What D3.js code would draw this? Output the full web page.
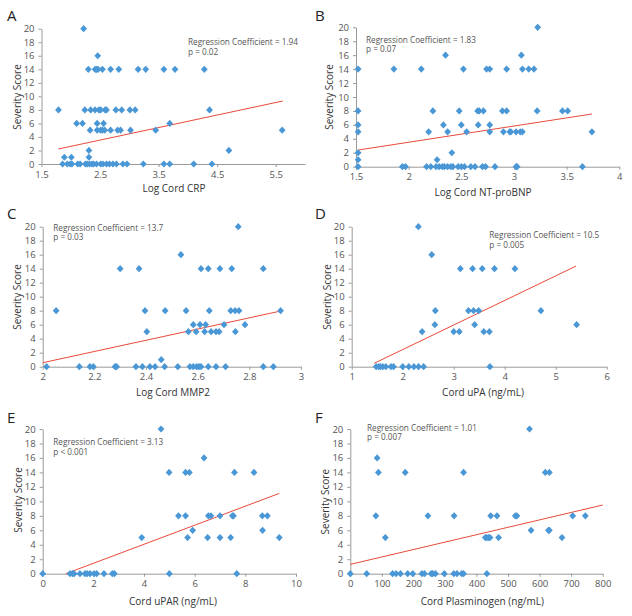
<!DOCTYPE html>
<html><head><meta charset="utf-8">
<script src="https://cdn.jsdelivr.net/npm/d3@7"></script>
<style>
html,body{margin:0;padding:0;background:#fff;}
svg{display:block;}
text{font-family:"Open Sans",sans-serif;}
</style></head>
<body>
<svg id="chart" width="632" height="616"></svg>
<script>
// ---------- DATA ----------
// Panel A: Log Cord CRP
const aX = [2.22, 2.46,
  2.30,2.415,2.44,2.466,2.54,2.68,2.82,3.15,3.28,3.59,3.78,4.28,
  1.79,2.24,2.34,2.415,2.48,2.51,2.585,2.61,2.77,2.87,3.01,3.10,4.37,
  2.10,2.20,2.45,2.56,3.69,
  2.33,2.45,2.51,2.54,2.58,2.68,2.80,2.85,3.02,3.45,5.61,
  2.31,4.70,
  1.89,2.01,2.31,
  1.86,1.94,1.99,2.02,2.12,2.16,2.25,2.28,2.32,2.36,2.39,2.44,2.51,2.55,2.61,2.66,2.72,2.78,2.89,2.96,3.24,3.59,3.69,4.10,4.41];
const aY = [20,16,
  14,14,14,14,14,14,14,14,14,14,14,14,
  8,8,8,8,8,8,8,8,8,8,8,8,8,
  6,6,6,6,6,
  5,5,5,5,5,5,5,5,5,5,5,
  2,2,
  1,1,1,
  0,0,0,0,0,0,0,0,0,0,0,0,0,0,0,0,0,0,0,0,0,0,0,0,0];
const aLineX = [1.79, 5.62];
const aLineY = [2.22, 9.31];

// Panel B: Log Cord NT-proBNP
const bX = [3.225,
  2.35,3.07,
  1.52,1.86,2.12,2.52,2.74,2.77,2.93,3.08,3.14,3.19,
  1.52,2.23,2.48,2.655,2.67,2.71,2.89,2.93,3.22,3.46,3.51,
  1.52,2.33,2.50,2.66,2.77,
  1.52,2.19,2.37,2.55,2.77,2.90,2.96,2.97,3.02,3.06,3.08,3.74,
  1.52,2.41,
  1.52,2.27,
  1.52,1.94,1.97,2.17,2.21,2.26,2.29,2.32,2.34,2.37,2.40,2.42,2.47,2.50,2.53,2.59,2.63,2.70,2.73,2.82,3.02,3.03,3.65];
const bY = [20,
  16,16,
  14,14,14,14,14,14,14,14,14,14,
  8,8,8,8,8,8,8,8,8,8,8,
  6,6,6,6,6,
  5,5,5,5,5,5,5,5,5,5,5,5,
  2,2,
  1,1,
  0,0,0,0,0,0,0,0,0,0,0,0,0,0,0,0,0,0,0,0,0,0,0];
const bLineX = [1.52, 3.74];
const bLineY = [2.39, 7.56];

// Panel C: Log Cord MMP2
const cX = [2.757,
  2.535,
  2.30,2.373,2.613,2.641,2.686,2.732,2.854,
  2.052,2.396,2.474,2.555,2.645,2.728,2.745,2.76,2.921,
  2.583,2.609,2.631,2.702,2.783,
  2.403,2.564,2.594,2.627,2.652,2.671,2.683,2.746,
  2.459,
  2.015,2.142,2.183,2.196,2.28,2.286,2.361,2.386,2.415,2.435,2.472,2.523,2.57,2.583,2.596,2.605,2.613,2.641,2.671,2.708,2.854,2.893];
const cY = [20,
  16,
  14,14,14,14,14,14,14,
  8,8,8,8,8,8,8,8,8,
  6,6,6,6,6,
  5,5,5,5,5,5,5,5,
  1,
  0,0,0,0,0,0,0,0,0,0,0,0,0,0,0,0,0,0,0,0,0,0];
const cLineX = [2.0, 2.921];
const cLineY = [0.57, 7.95];

// Panel D: Cord uPA (ng/mL)
const dX = [2.307,
  2.569,
  3.13,3.37,3.56,3.80,4.20,
  2.64,3.29,3.39,3.49,4.71,
  2.63,3.41,5.41,
  2.38,3.00,3.11,3.59,3.70,
  1.48,1.53,1.56,1.61,1.67,1.77,1.82,2.00,2.12,2.22,2.31,2.41,3.71];
const dY = [20,
  16,
  14,14,14,14,14,
  8,8,8,8,8,
  6,6,6,
  5,5,5,5,5,
  0,0,0,0,0,0,0,0,0,0,0,0,0];
const dLineX = [1.44, 5.40];
const dLineY = [0.48, 14.38];

// Panel E: Cord uPAR (ng/mL)
const eX = [4.67,
  6.37,
  4.99,5.64,5.79,7.57,8.34,
  5.36,5.64,6.54,6.64,7.00,7.49,7.53,8.67,8.87,
  5.92,8.68,
  3.91,5.72,6.51,7.00,7.42,9.34,
  0.00,1.08,1.18,1.24,1.47,1.67,1.76,1.87,2.03,2.13,2.42,2.75,2.83,5.00,7.66];
const eY = [20,
  16,
  14,14,14,14,14,
  8,8,8,8,8,8,8,8,8,
  6,6,
  5,5,5,5,5,5,
  0,0,0,0,0,0,0,0,0,0,0,0,0,0,0];
const eLineX = [0.91, 9.34];
const eLineY = [0, 11.1];

// Panel F: Cord Plasminogen (ng/mL)
const fX = [568,
  85,
  89,174,359,618,631,
  81,246,329,445,465,523,528,705,745,
  573,628,631,
  111,428,433,438,443,470,671,
  0,52,134,145,159,182,198,227,235,256,261,270,298,328,338,353,359,433];
const fY = [20,
  16,
  14,14,14,14,14,
  8,8,8,8,8,8,8,8,8,
  6,6,6,
  5,5,5,5,5,5,5,
  0,0,0,0,0,0,0,0,0,0,0,0,0,0,0,0,0,0];
const fLineX = [0, 800];
const fLineY = [1.29, 9.49];

// Tick labels and texts
const yTicks = [0,2,4,6,8,10,12,14,16,18,20];
const aTicks = [1.5,2.5,3.5,4.5,5.5];
const bTicks = [1.5,2,2.5,3,3.5,4];
const cTicks = [2,2.2,2.4,2.6,2.8,3];
const dTicks = [1,2,3,4,5,6];
const eTicks = [0,2,4,6,8,10];
const fTicks = [0,100,200,300,400,500,600,700,800];
const panelLetters = ["A","B","C","D","E","F"];
const xTitles = ["Log Cord CRP","Log Cord NT-proBNP","Log Cord MMP2","Cord uPA (ng/mL)","Cord uPAR (ng/mL)","Cord Plasminogen (ng/mL)"];
const coefTexts = ["Regression Coefficient = 1.94","Regression Coefficient = 1.83","Regression Coefficient = 13.7","Regression Coefficient = 10.5","Regression Coefficient = 3.13","Regression Coefficient = 1.01"];
const pTexts = ["p = 0.02","p = 0.07","p = 0.03","p = 0.005","p < 0.001","p = 0.007"];
const yTitle = "Severity Score";

// ---------- LAYOUT ----------
const layouts = [
  {xs:aX, ys:aY, lx:aLineX, ly:aLineY, ticks:aTicks, xd:[1.5,6], xr:[41.5,305], yr:[164,28.7], lab:[7,21], yt:[21,97], xt:[174,191.5], ann:[188,45]},
  {xs:bX, ys:bY, lx:bLineX, ly:bLineY, ticks:bTicks, xd:[1.5,4], xr:[356,619.3], yr:[166.7,27.3], lab:[315,21], yt:[333,97], xt:[483,195.5], ann:[366,42.7]},
  {xs:cX, ys:cY, lx:cLineX, ly:cLineY, ticks:cTicks, xd:[2,3], xr:[42.7,301], yr:[366.7,226.7], lab:[7,219], yt:[21,297], xt:[173,396], ann:[53.3,230.7]},
  {xs:dX, ys:dY, lx:dLineX, ly:dLineY, ticks:dTicks, xd:[1,6], xr:[351.7,606.7], yr:[366.7,226.7], lab:[315,219], yt:[330.5,297], xt:[483,396], ann:[489.3,238.3]},
  {xs:eX, ys:eY, lx:eLineX, ly:eLineY, ticks:eTicks, xd:[0,10], xr:[42.7,296], yr:[573.7,429], lab:[7,423], yt:[21.5,500], xt:[173,605], ann:[53.3,445]},
  {xs:fX, ys:fY, lx:fLineX, ly:fLineY, ticks:fTicks, xd:[0,800], xr:[350.3,602.7], yr:[573.7,429], lab:[315,423], yt:[329,501.7], xt:[482.3,605], ann:[367,430.7]}
];

const svg = d3.select("#chart");
const axisColor = "#9a9a9a";
const tickTextColor = "#555";
const pointColor = "#4a97d6";
const lineColor = "#ea4a3a";
const diamond = "M0,-3.6L3.4,0L0,3.6L-3.4,0Z";

layouts.forEach((L, i) => {
  const g = svg.append("g");
  const x = d3.scaleLinear().domain(L.xd).range(L.xr);
  const y = d3.scaleLinear().domain([0,20]).range(L.yr);

  const xa = g.append("g").attr("transform", `translate(0,${L.yr[0]})`)
    .call(d3.axisBottom(x).tickValues(L.ticks).tickSize(3).tickSizeOuter(0).tickPadding(4)
      .tickFormat(d => String(d)));
  const ya = g.append("g").attr("transform", `translate(${L.xr[0]},0)`)
    .call(d3.axisLeft(y).tickValues(yTicks).tickSize(3).tickSizeOuter(0).tickPadding(4));
  [xa, ya].forEach(a => {
    a.select(".domain").attr("stroke", axisColor).attr("stroke-width", 1);
    a.selectAll(".tick line").attr("stroke", axisColor);
    a.selectAll(".tick text").attr("fill", tickTextColor)
      .style("font-family", '"Open Sans",sans-serif').style("font-size", "9.5px");
  });

  g.append("line")
    .attr("x1", x(L.lx[0])).attr("y1", y(L.ly[0]))
    .attr("x2", x(L.lx[1])).attr("y2", y(L.ly[1]))
    .attr("stroke", lineColor).attr("stroke-width", 1);

  g.append("g").selectAll("path").data(L.xs.map((v, k) => [v, L.ys[k]])).join("path")
    .attr("d", diamond)
    .attr("transform", d => `translate(${x(d[0])},${y(d[1])})`)
    .attr("fill", pointColor);

  g.append("text").attr("x", L.lab[0]).attr("y", L.lab[1])
    .text(panelLetters[i]).attr("fill", "#222")
    .style("font-size", "15px").style("font-weight", "500");

  g.append("text").attr("transform", `translate(${L.yt[0]},${L.yt[1]}) rotate(-90)`)
    .attr("text-anchor", "middle").text(yTitle).attr("fill", "#333")
    .style("font-size", "10px");

  g.append("text").attr("x", L.xt[0]).attr("y", L.xt[1])
    .attr("text-anchor", "middle").text(xTitles[i]).attr("fill", "#333")
    .style("font-size", "10px");

  g.append("text").attr("x", L.ann[0]).attr("y", L.ann[1])
    .text(coefTexts[i]).attr("fill", "#555").style("font-size", "8.2px");
  g.append("text").attr("x", L.ann[0]).attr("y", L.ann[1] + 9.5)
    .text(pTexts[i]).attr("fill", "#555").style("font-size", "8.2px");
});
</script>
</body></html>
